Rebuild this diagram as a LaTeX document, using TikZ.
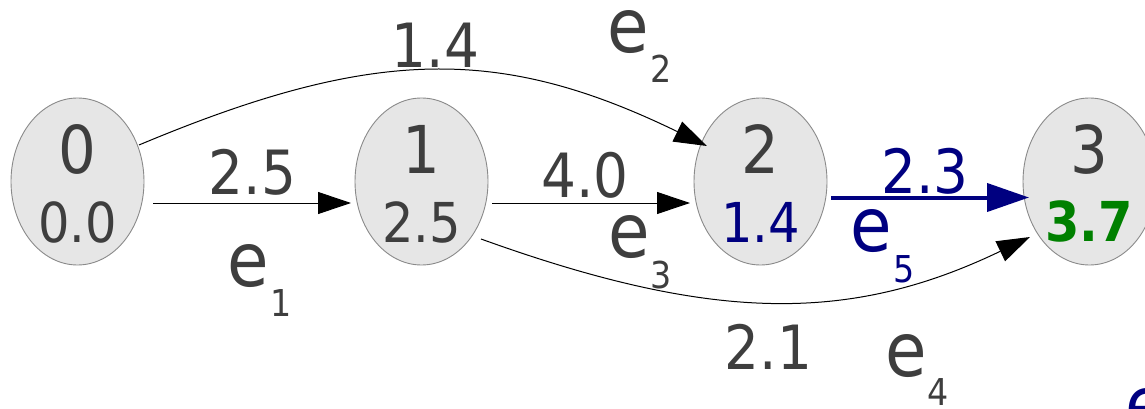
\documentclass[tikz,border=0pt]{standalone}
\usepackage{fontspec}
\setmainfont{DejaVu Sans}[FakeStretch=0.9]
\usetikzlibrary{shapes.geometric,arrows.meta,calc}
\definecolor{txt}{HTML}{3E3E3E}
\definecolor{navyb}{HTML}{000080}
\definecolor{grn}{HTML}{008000}
\definecolor{nfill}{HTML}{E6E6E6}
\definecolor{nbord}{HTML}{8A8A8A}
\begin{document}
\begin{tikzpicture}[x=1pt,y=-1pt,
  state/.style={ellipse,draw=nbord,fill=nfill,line width=0.9pt,minimum width=133pt,minimum height=167pt,inner sep=0pt},
  num/.style={inner sep=0pt,text=txt,font=\fontsize{66}{66}\selectfont},
  val/.style={inner sep=0pt,text=txt,font=\fontsize{55}{55}\selectfont},
  wt/.style={inner sep=0pt,text=txt,font=\fontsize{61}{61}\selectfont},
  ee/.style={inner sep=0pt,text=txt,font=\fontsize{75}{75}\selectfont},
  sub/.style={inner sep=0pt,text=txt,font=\fontsize{37}{37}\selectfont},
  edge/.style={draw=black,line width=1pt,-{Triangle[length=33pt,width=22pt]}},
  bedge/.style={draw=navyb,line width=4pt,-{Triangle[length=42pt,width=28pt]}},
]
\useasboundingbox (0,0) rectangle (1145,409);
\clip (0,0) rectangle (1145,409);

% states
\node[state] (n0) at (77.5,181.5) {};
\node[state] (n1) at (421.5,181.5) {};
\node[state] (n2) at (760.5,181.5) {};
\node[state] (n3) at (1089.5,181.5) {};

\node[num] (n0num) at (77.5,149) {0};
\node[val] (n0val) at (77.5,222) {0.0};
\node[num] (n1num) at (421.5,149) {1};
\node[val] (n1val) at (421.5,222) {2.5};
\node[num] (n2num) at (760.5,149) {2};
\node[val,text=navyb] (n2val) at (760.5,222) {1.4};
\node[num] (n3num) at (1089.5,149) {3};
\node[val,text=grn,font=\fontsize{55}{55}\selectfont\bfseries] (n3val) at (1089,221) {3.7};

% connectors
\draw[edge] ($(n0.center)+(75.5,21.5)$) -- ($(n1.center)+(-70.5,21.5)$);
\draw[edge] ($(n1.center)+(70.5,21.5)$) -- ($(n2.center)+(-70.5,21.5)$);
\draw[bedge] ($(n2.center)+(70.5,16)$) -- ($(n3.center)+(-60.5,16)$);
\draw[edge] ($(n0.center)+(61.5,-36.5)$) .. controls (375,46) and (501,46) .. ($(n2.center)+(-53.5,-35.5)$);
\draw[edge] ($(n1.center)+(59.5,57.5)$) .. controls (714,323) and (851,323) .. ($(n3.center)+(-59.5,55.5)$);

% weights
\node[wt] (w2) at (435.5,45) {1.4};
\node[wt] (w1) at (252.5,172.5) {2.5};
\node[wt] (w3) at (585,175) {4.0};
\node[wt,text=navyb] (w5) at (925,171) {2.3};
\node[wt] (w4) at (768.5,346.5) {2.1};

% edge names
\node[ee] (e1) at (248,266) {e};
\node[sub] (e1s) at (281,303.5) {1};
\node[ee] (e2) at (628.5,32) {e};
\node[sub] (e2s) at (661.5,68.5) {2};
\node[ee] (e3) at (629,237.5) {e};
\node[sub] (e3s) at (661.5,275) {3};
\node[ee] (e4) at (906,356) {e};
\node[sub] (e4s) at (938.5,392.5) {4};
\node[ee,text=navyb] (e5) at (871.5,231.5) {e};
\node[sub,text=navyb] (e5s) at (904,269.5) {5};
\node[ee,text=navyb] (e6) at (1146.5,410) {e};
\end{tikzpicture}
\end{document}
